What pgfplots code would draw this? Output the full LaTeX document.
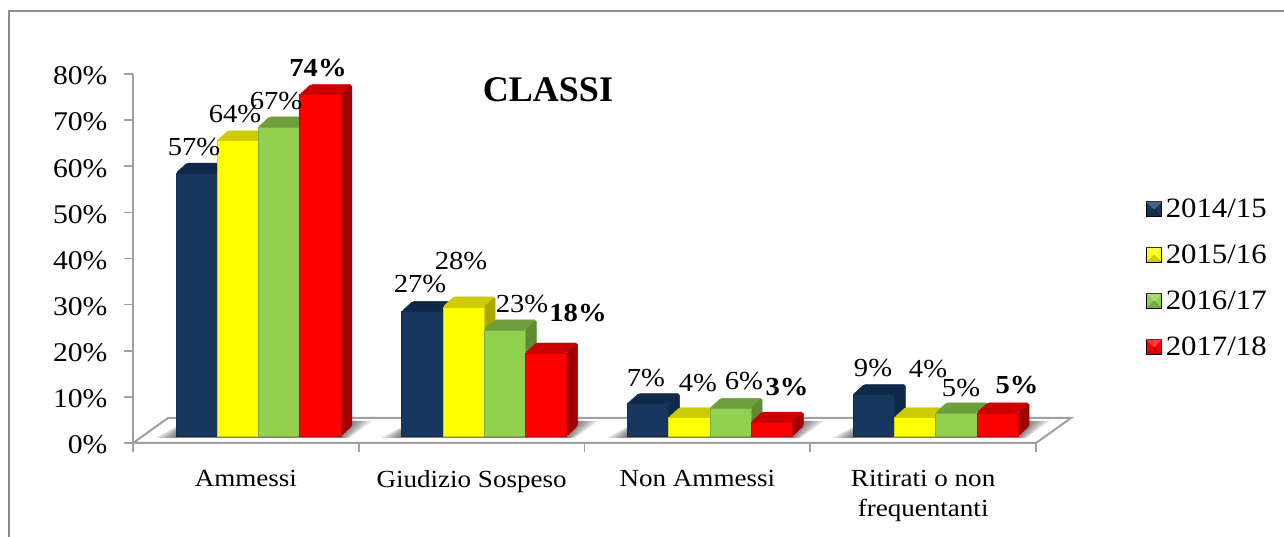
\documentclass[border=0pt]{standalone}
\usepackage{pgfplots}
\pgfplotsset{compat=1.18}
\usepackage{fontspec}
\setmainfont[FakeStretch=1.1]{Liberation Serif}
\newfontfamily\titlefont{Liberation Serif}
\definecolor{axgray}{HTML}{A0A0A0}
\definecolor{fb}{HTML}{17375E}\definecolor{tb}{HTML}{10294A}\definecolor{sb}{HTML}{10294A}
\definecolor{fy}{HTML}{FFFF00}\definecolor{ty}{HTML}{CCCC00}\definecolor{sy}{HTML}{A8A800}
\definecolor{fg}{HTML}{92D050}\definecolor{tg}{HTML}{6F9E3C}\definecolor{sg}{HTML}{618A35}
\definecolor{fr}{HTML}{FF0000}\definecolor{tr}{HTML}{CC0000}\definecolor{sr}{HTML}{A00000}
\newcommand{\lab}[3]{\node[font=\fontsize{26}{28}\selectfont,inner sep=0pt] at (#1,537-#2) {#3};}
\newcommand{\blab}[3]{\node[font=\fontsize{26}{28}\selectfont\bfseries,inner sep=0pt] at (#1,537-#2) {#3};}
\newcommand{\tdbar}[4]{%
 \pgfmathsetmacro\xa{#1+0.19+#2*0.1827}%
 \pgfmathsetmacro\xb{\xa+0.1827}%
 \pgfmathsetmacro\xc{\xb+0.0487}%
 \pgfmathsetmacro\xd{\xa+0.0487}%
 \pgfmathsetmacro\yt{1.52+#3}%
 \pgfmathsetmacro\yu{\yt+2.17}%
 \addplot[fill=t#4,draw=t#4,line width=0.4pt,rounded corners=1.5pt,forget plot] coordinates {(\xa,\yt)(\xb,\yt)(\xc,\yu)(\xd,\yu)} -- cycle;
 \addplot[fill=s#4,draw=s#4,line width=0.4pt,rounded corners=1.5pt,forget plot] coordinates {(\xb,1.52)(\xc,3.69)(\xc,\yu)(\xb,\yt)} -- cycle;
 \addplot[fill=f#4,draw=f#4!82!black,line width=0.6pt,forget plot] coordinates {(\xa,1.52)(\xb,1.52)(\xb,\yt)(\xa,\yt)} -- cycle;
}
\newcommand{\shadowlayer}[2]{%
 \pgfmathsetmacro\xa{#1+0.19-#2}%
 \pgfmathsetmacro\xb{#1+0.19+0.7308+0.4*#2}%
 \pgfmathsetmacro\xc{#1+0.19+0.7308+0.0487+#2}%
 \pgfmathsetmacro\xd{#1+0.24}%
 \addplot[fill=black,fill opacity=0.13,draw=none,forget plot] coordinates {(\xa,1.1)(\xb,1.1)(\xc,4.8)(\xd,4.8)} -- cycle;
}
\newcommand{\shadow}[1]{\shadowlayer{#1}{0.09}\shadowlayer{#1}{0.07}\shadowlayer{#1}{0.05}\shadowlayer{#1}{0.03}\shadowlayer{#1}{0.01}}
\begin{document}
\begin{tikzpicture}[x=1pt,y=1pt]
\path[use as bounding box] (0,0) rectangle (1284,537);
\draw[color=black!45,line width=2.2pt] (9,-5) -- (9,526) -- (1290,526);
\begin{axis}[
  at={(133pt,94pt)},anchor=south west,
  scale only axis,width=903pt,height=369pt,
  xmin=0,xmax=4,ymin=0,ymax=80,
  clip=false,
  axis x line*=bottom,axis y line*=left,
  axis line style={draw=axgray,line width=2pt,-},
  every tick/.style={draw=axgray,line width=1.6pt},
  major tick length=9pt,
  tick align=outside,
  xtick={0,1,2,3,4},xticklabels={},
  extra x ticks={0.5,1.5,2.5,3.5},
  extra x tick labels={Ammessi,Giudizio Sospeso,Non Ammessi,{Ritirati o non\\frequentanti}},
  extra x tick style={major tick length=0pt,
    xticklabel style={align=center,font=\fontsize{24.6}{30}\selectfont,yshift=-24pt,anchor=north}},
  ytick={0,10,20,30,40,50,60,70,80},
  yticklabel={\pgfmathprintnumber{\tick}\%},
  /pgf/number format/assume math mode=true,
  yticklabel style={font=\fontsize{27}{28}\selectfont,xshift=-13pt,yshift=-2pt},
  legend cell align=left,
  legend style={at={(1.122,0.667)},anchor=north west,draw=none,fill=none,
    font=\fontsize{28}{30}\selectfont,row sep=21.8pt,inner sep=0pt,
    /tikz/every odd column/.append style={column sep=2pt}},
  legend image code/.code={\fill[#1] (0pt,-7.5pt) rectangle (15pt,7.5pt);
    \fill[white,opacity=0.22] (0pt,7.5pt) -- (15pt,7.5pt) -- (7.5pt,0pt) -- cycle;
    \fill[black,opacity=0.18] (0pt,-7.5pt) -- (15pt,-7.5pt) -- (7.5pt,0pt) -- cycle;},
]
% floor
\addplot[fill=white,draw=axgray,line width=2pt,forget plot] coordinates {(0,0)(4,0)(4.155,5.42)(0.155,5.42)} -- cycle;
\shadow{0}\shadow{1}\shadow{2}\shadow{3}
% Ammessi
\tdbar{0}{0}{57}{b}\tdbar{0}{1}{64}{y}\tdbar{0}{2}{67}{g}\tdbar{0}{3}{74}{r}
% Giudizio Sospeso
\tdbar{1}{0}{27}{b}\tdbar{1}{1}{28}{y}\tdbar{1}{2}{23}{g}\tdbar{1}{3}{18}{r}
% Non Ammessi
\tdbar{2}{0}{7}{b}\tdbar{2}{1}{4}{y}\tdbar{2}{2}{6}{g}\tdbar{2}{3}{3}{r}
% Ritirati
\tdbar{3}{0}{9}{b}\tdbar{3}{1}{4}{y}\tdbar{3}{2}{5}{g}\tdbar{3}{3}{5}{r}
\addlegendimage{fill=fb}\addlegendentry{2014/15}
\addlegendimage{fill=fy}\addlegendentry{2015/16}
\addlegendimage{fill=fg}\addlegendentry{2016/17}
\addlegendimage{fill=fr}\addlegendentry{2017/18}
\end{axis}
\node[font=\fontsize{36}{40}\selectfont\titlefont\bfseries,inner sep=0pt] at (548,537-90) {CLASSI};
\lab{194}{147}{57\%}\lab{235}{114}{64\%}\lab{276}{101}{67\%}\blab{318}{68}{74\%}
\lab{420}{284}{27\%}\lab{461}{261}{28\%}\lab{522}{304}{23\%}\blab{578}{313}{18\%}
\lab{646}{378}{7\%}\lab{698}{383}{4\%}\lab{744}{381}{6\%}\blab{787}{387}{3\%}
\lab{873}{368}{9\%}\lab{928}{369}{4\%}\lab{961}{388}{5\%}\blab{1017}{385}{5\%}
\end{tikzpicture}
\end{document}
